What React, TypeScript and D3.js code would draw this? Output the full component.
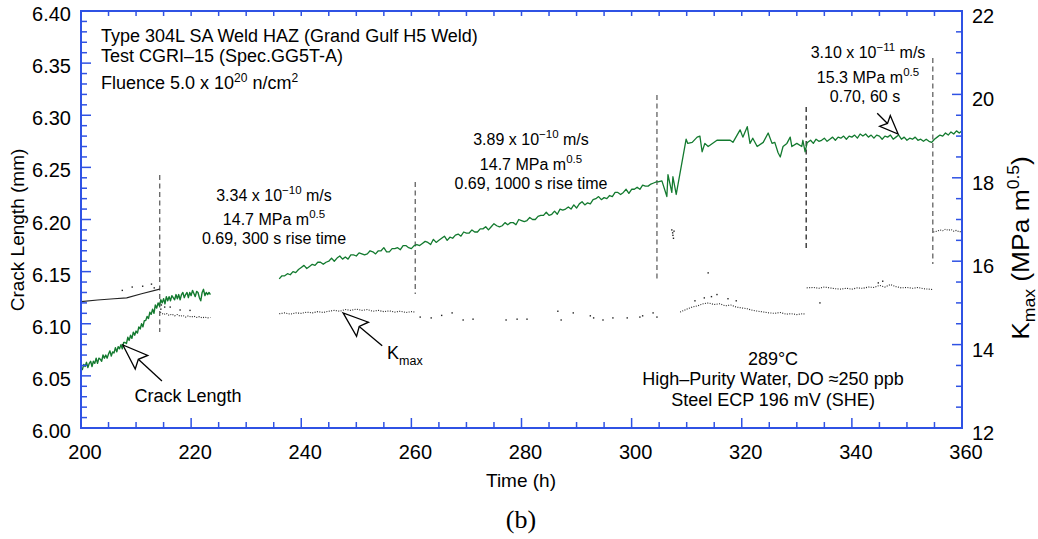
import React from 'react';
import * as d3 from 'd3';

// ---------- axis ticks ----------
const xTickValues = [200, 220, 240, 260, 280, 300, 320, 340, 360];
const yLeftTickValues = [6.0, 6.05, 6.1, 6.15, 6.2, 6.25, 6.3, 6.35, 6.4];
const yRightTickValues = [12, 14, 16, 18, 20, 22];

// ---------- crack length (mm) ----------
const crackA_start = 200;
const crackA_step = 0.25;
const crackA = [
  6.058, 6.056, 6.061, 6.059, 6.063, 6.058, 6.062, 6.064, 6.059, 6.064,
  6.062, 6.067, 6.062, 6.067, 6.066, 6.064, 6.070, 6.067, 6.070, 6.067,
  6.071, 6.074, 6.069, 6.073, 6.072, 6.077, 6.073, 6.078, 6.076, 6.080,
  6.076, 6.082, 6.082, 6.081, 6.087, 6.084, 6.089, 6.086, 6.092, 6.089,
  6.093, 6.091, 6.097, 6.095, 6.100, 6.097, 6.103, 6.103, 6.107, 6.105,
  6.111, 6.109, 6.114, 6.110, 6.118, 6.115, 6.120, 6.117, 6.123, 6.120,
  6.124, 6.119, 6.126, 6.122, 6.126, 6.122, 6.127, 6.125, 6.123, 6.128,
  6.124, 6.128, 6.123, 6.128, 6.130, 6.125, 6.128, 6.130, 6.125, 6.130,
  6.127, 6.132, 6.129, 6.126, 6.131, 6.130, 6.125, 6.122, 6.130, 6.133,
  6.127, 6.130, 6.128, 6.130, 6.128,
];

const crackB_start = 236;
const crackB_step = 0.5;
const crackB = [
  6.143, 6.146, 6.146, 6.148, 6.147, 6.150, 6.149, 6.152, 6.154, 6.156,
  6.153, 6.155, 6.157, 6.156, 6.159, 6.159, 6.157, 6.159, 6.160, 6.163,
  6.160, 6.163, 6.165, 6.162, 6.164, 6.162, 6.166, 6.166, 6.165, 6.168,
  6.167, 6.166, 6.167, 6.170, 6.169, 6.167, 6.170, 6.170, 6.173, 6.169,
  6.169, 6.172, 6.172, 6.173, 6.171, 6.175, 6.175, 6.173, 6.172, 6.175,
  6.176, 6.175, 6.177, 6.179, 6.178, 6.176, 6.181, 6.178, 6.180, 6.182,
  6.184, 6.180, 6.183, 6.182, 6.185, 6.186, 6.184, 6.188, 6.187, 6.187,
  6.190, 6.188, 6.188, 6.191, 6.191, 6.193, 6.190, 6.193, 6.196, 6.194,
  6.193, 6.194, 6.197, 6.195, 6.197, 6.197, 6.195, 6.200, 6.199, 6.198,
  6.199, 6.202, 6.200, 6.200, 6.203, 6.204, 6.204, 6.207, 6.204, 6.205,
  6.208, 6.205, 6.210, 6.209, 6.210, 6.212, 6.210, 6.214, 6.211, 6.215,
  6.217, 6.214, 6.216, 6.215, 6.219, 6.220, 6.222, 6.219, 6.221, 6.220,
  6.223, 6.222, 6.226, 6.226, 6.224, 6.226, 6.229, 6.225, 6.229, 6.229,
  6.231, 6.229, 6.233, 6.232, 6.232, 6.234, 6.235, 6.236,
];

const crackC_time = [
  304.8, 305.5, 306.4, 306.6, 307.3, 307.5, 308.1, 309.9, 310.2, 311.0,
  311.9, 312.4, 312.8, 313.3, 313.9, 315.5, 317.9, 318.4, 319.7, 320.2,
  321.0, 321.5, 322.0, 322.8, 323.9, 324.8, 325.5, 326.0, 326.6, 327.0,
  327.5, 328.2, 328.8, 329.1, 330.0, 330.9, 331.1, 331.5, 331.9,
];
const crackC = [
  6.236, 6.237, 6.222, 6.243, 6.226, 6.241, 6.224, 6.277, 6.273, 6.274,
  6.279, 6.280, 6.265, 6.273, 6.270, 6.276, 6.276, 6.274, 6.286, 6.279,
  6.289, 6.273, 6.278, 6.270, 6.274, 6.283, 6.273, 6.274, 6.264, 6.260,
  6.270, 6.273, 6.279, 6.270, 6.273, 6.270, 6.276, 6.265, 6.274,
];

const crackD_start = 332;
const crackD_step = 0.5;
const crackD = [
  6.274, 6.276, 6.273, 6.277, 6.275, 6.276, 6.278, 6.275, 6.277, 6.279,
  6.276, 6.279, 6.278, 6.280, 6.277, 6.280, 6.279, 6.281, 6.278, 6.282,
  6.280, 6.282, 6.279, 6.281, 6.278, 6.281, 6.280, 6.277, 6.280, 6.279,
  6.281, 6.277, 6.279, 6.281, 6.277, 6.279, 6.276, 6.278, 6.277, 6.279,
  6.276, 6.277, 6.275, 6.277, 6.275, 6.274, 6.277, 6.279, 6.281, 6.280,
  6.283, 6.281, 6.284, 6.282, 6.285, 6.283, 6.285,
];

// ---------- Kmax (MPa m^0.5) ----------
const kmax1_time = [200, 203, 206, 208.3, 211, 214.3];
const kmax1 = [15.03, 15.07, 15.1, 15.12, 15.22, 15.33];

const kmax2_time = [214.4, 215, 215.5, 216, 216.5, 217, 217.5, 218, 218.5, 219, 219.5, 220, 220.5, 221, 221.5, 222, 222.5, 223, 223.5];
const kmax2 = [14.78, 14.72, 14.75, 14.7, 14.73, 14.69, 14.72, 14.68, 14.7, 14.66, 14.69, 14.66, 14.68, 14.65, 14.67, 14.64, 14.66, 14.64, 14.65];

const kmax3_time = [236, 237, 238, 239, 240, 241, 242, 243, 244, 245, 246, 247, 248, 249, 250, 251, 252, 253, 254, 255, 256, 257, 258, 259, 260, 260.6];
const kmax3 = [14.74, 14.76, 14.73, 14.76, 14.75, 14.78, 14.76, 14.79, 14.77, 14.8, 14.82, 14.8, 14.84, 14.82, 14.85, 14.82, 14.84, 14.8, 14.82, 14.79, 14.81, 14.78, 14.8, 14.77, 14.79, 14.78];

const kmax6_time = [308.8, 310, 311, 312, 313, 314, 315, 316, 317, 318, 319, 320, 321, 322, 323, 324, 325, 326, 327, 328, 329, 330, 331, 331.6];
const kmax6 = [14.78, 14.85, 14.9, 14.93, 14.98, 15.0, 14.96, 14.98, 14.93, 14.95, 14.9, 14.88, 14.86, 14.82, 14.8, 14.78, 14.76, 14.75, 14.77, 14.73, 14.74, 14.72, 14.74, 14.73];

const kmax7_time = [331.8, 333, 334, 335, 336, 337, 338, 339, 340, 341, 342, 343, 344, 345, 346, 347, 348, 349, 350, 351, 352, 353, 354, 354.6];
const kmax7 = [15.36, 15.37, 15.35, 15.38, 15.36, 15.34, 15.33, 15.35, 15.33, 15.36, 15.35, 15.38, 15.37, 15.42, 15.38, 15.44, 15.39, 15.36, 15.37, 15.35, 15.37, 15.34, 15.33, 15.32];

const kmax8_time = [354.8, 355.5, 356, 356.5, 357, 357.5, 358, 358.5, 359, 359.5, 360];
const kmax8 = [16.7, 16.72, 16.75, 16.73, 16.77, 16.74, 16.76, 16.72, 16.74, 16.7, 16.72];

const kmaxScatter_time = [
  207.5, 209.3, 211.2, 212.8, 213.3, 214.5, 214.6, 215.2, 216.2, 218, 219.8,
  261.6, 263.6, 265.5, 267.4, 269.4, 271.2, 277.2, 279.2, 281, 286.6, 287.2,
  289.4, 292.5, 293.1, 294.8, 296.6, 299.2, 301.5, 302, 303.9, 304.6,
  307.3, 307.45, 307.5, 307.6, 307.7, 313.9, 311.5, 313.2, 314.5, 315.5, 317.5, 319,
  334.2, 344.8, 345.6,
];
const kmaxScatter = [
  15.3, 15.38, 15.4, 15.45, 15.36, 14.85, 14.95, 14.9, 14.9, 14.83, 14.82,
  14.66, 14.64, 14.7, 14.76, 14.59, 14.61, 14.59, 14.61, 14.61, 14.8, 14.59,
  14.76, 14.69, 14.64, 14.59, 14.64, 14.64, 14.66, 14.69, 14.76, 14.66,
  16.75, 16.68, 16.62, 16.55, 16.72, 15.72, 15.05, 15.12, 15.15, 15.2, 15.1, 15.05,
  15.0, 15.48, 15.52,
];

// ---------- vertical dashed markers (time, crack-length extent) ----------
const markerTime = [214.3, 260.7, 304.6, 331.7, 354.7];
const markerTop = [6.2427, 6.236, 6.3194, 6.3079, 6.3549];
const markerBottom = [6.0921, 6.1285, 6.142, 6.1698, 6.1573];
const markerDark = [false, false, false, true, false];

const BLUE = '#2f52e4';
const GREEN = '#137a2f';
const FONT = '"Liberation Sans", Arial, Helvetica, sans-serif';

const PL = 81, PR = 962, PT = 11, PB = 428;

function Arrow({ tip, tail, head = 26, ang = 20, notch = 0.8 }: { tip: number[]; tail: number[]; head?: number; ang?: number; notch?: number }) {
  const dx = tail[0] - tip[0];
  const dy = tail[1] - tip[1];
  const len = Math.hypot(dx, dy);
  const ux = dx / len, uy = dy / len;
  const a = (ang * Math.PI) / 180;
  const rot = (t: number) => [ux * Math.cos(t) - uy * Math.sin(t), ux * Math.sin(t) + uy * Math.cos(t)];
  const r1 = rot(a), r2 = rot(-a);
  const b1 = [tip[0] + r1[0] * head, tip[1] + r1[1] * head];
  const b2 = [tip[0] + r2[0] * head, tip[1] + r2[1] * head];
  const n = [tip[0] + ux * head * notch, tip[1] + uy * head * notch];
  const pts = [tip, b1, n, b2].map((p) => p.join(',')).join(' ');
  return (
    <g>
      <line x1={n[0]} y1={n[1]} x2={tail[0]} y2={tail[1]} stroke="#000" strokeWidth={1.3} />
      <polygon points={pts} fill="#fff" stroke="#000" strokeWidth={1.3} strokeLinejoin="miter" />
    </g>
  );
}

export default function App() {
  const x = d3.scaleLinear().domain([200, 360]).range([PL, PR]);
  const yL = d3.scaleLinear().domain([6.0, 6.4]).range([PB, PT]);
  const yR = d3.scaleLinear().domain([12, 22]).range([PB, PT]);

  const lineL = d3.line<[number, number]>().x((d) => x(d[0])).y((d) => yL(d[1]));
  const lineR = d3.line<[number, number]>().x((d) => x(d[0])).y((d) => yR(d[1]));

  const segA: [number, number][] = crackA.map((v, i) => [crackA_start + i * crackA_step, v]);
  const segB: [number, number][] = crackB.map((v, i) => [crackB_start + i * crackB_step, v]);
  const segC: [number, number][] = crackC.map((v, i) => [crackC_time[i], v]);
  const segD: [number, number][] = crackD.map((v, i) => [crackD_start + i * crackD_step, v]);
  const segBCD = [...segB, ...segC, ...segD];

  const pair = (t: number[], v: number[]) => v.map((k, i) => [t[i], k] as [number, number]);

  const xMinor = d3.range(200, 360.01, 5);
  const yLMinor = d3.range(6.0, 6.4001, 0.01);
  const yRMinor = d3.range(12, 22.001, 0.5);

  const isMajorX = (v: number) => Math.abs(v % 20) < 1e-6;
  const isMajorL = (v: number) => Math.abs(Math.round(v * 100) % 5) === 0;
  const isMajorR = (v: number) => Math.abs(v % 2) < 1e-6;

  const crackTip = [x(207.6), yL(6.0796)];
  const crackTail = [x(214.7), yL(6.045)];
  const kTip = [x(247.6), yR(14.76)];
  const kTail = [x(254.7), yR(13.97)];
  const sTip = [x(348.4), yL(6.282)];
  const sTail = [x(344.6), yL(6.302)];

  const sup = (s: string, size = 11.5) => (
    <tspan fontSize={size} dy={-7}>{s}</tspan>
  );

  return (
    <svg width={1038} height={539} style={{ position: 'absolute', left: 0, top: 0, background: '#fff' }} fontFamily={FONT}>
      <defs>
        <clipPath id="plot">
          <rect x={PL} y={PT} width={PR - PL} height={PB - PT} />
        </clipPath>
      </defs>

      {/* vertical dashed markers */}
      {markerTime.map((t, i) => (
        <line key={'m' + i} x1={x(t)} x2={x(t)} y1={yL(markerTop[i])} y2={yL(markerBottom[i])}
          stroke={markerDark[i] ? '#111' : '#555'} strokeWidth={1.2} strokeDasharray="5,3.5" />
      ))}

      <g clipPath="url(#plot)">
        {/* Kmax */}
        <path d={lineR(pair(kmax1_time, kmax1)) || ''} fill="none" stroke="#222" strokeWidth={1.1} />
        {[pair(kmax2_time, kmax2), pair(kmax3_time, kmax3), pair(kmax6_time, kmax6), pair(kmax7_time, kmax7), pair(kmax8_time, kmax8)].map((s, i) => (
          <path key={'k' + i} d={lineR(s) || ''} fill="none" stroke="#222" strokeWidth={1.1} strokeDasharray="1,1.4" />
        ))}
        {kmaxScatter.map((k, i) => (
          <rect key={'s' + i} x={x(kmaxScatter_time[i]) - 0.7} y={yR(k) - 0.7} width={1.4} height={1.4} fill="#222" />
        ))}
        {/* crack length */}
        <path d={lineL(segA) || ''} fill="none" stroke={GREEN} strokeWidth={1.4} strokeLinejoin="round" />
        <path d={lineL(segBCD) || ''} fill="none" stroke={GREEN} strokeWidth={1.3} strokeLinejoin="round" />
      </g>

      {/* frame */}
      <rect x={PL} y={PT} width={PR - PL} height={PB - PT} fill="none" stroke={BLUE} strokeWidth={2} />

      {/* bottom ticks */}
      {xMinor.map((v, i) => (
        <line key={'xb' + i} x1={x(v)} x2={x(v)} y1={PB} y2={PB - (isMajorX(v) ? 10 : 6)} stroke={BLUE} strokeWidth={1.5} />
      ))}
      {/* top ticks */}
      {xMinor.map((v, i) => (
        <line key={'xt' + i} x1={x(v)} x2={x(v)} y1={PT} y2={PT + 5} stroke={BLUE} strokeWidth={1.5} />
      ))}
      {/* left ticks */}
      {yLMinor.map((v, i) => (
        <line key={'yl' + i} x1={PL} x2={PL + (isMajorL(v) ? 10 : 6)} y1={yL(v)} y2={yL(v)} stroke={BLUE} strokeWidth={1.5} />
      ))}
      {/* right ticks */}
      {yRMinor.map((v, i) => (
        <line key={'yr' + i} x1={PR} x2={PR - (isMajorR(v) ? 10 : 6)} y1={yR(v)} y2={yR(v)} stroke={BLUE} strokeWidth={1.5} />
      ))}

      {/* tick labels */}
      {xTickValues.map((v) => (
        <text key={'xl' + v} x={x(v) + 4} y={459} textAnchor="middle" fontSize={20}>{v}</text>
      ))}
      {yLeftTickValues.map((v) => (
        <text key={'ll' + v} x={71} y={yL(v) + 10} textAnchor="end" fontSize={20}>{v.toFixed(2)}</text>
      ))}
      {yRightTickValues.map((v) => (
        <text key={'rl' + v} x={972} y={yR(v) + 12} textAnchor="start" fontSize={20}>{v}</text>
      ))}

      {/* axis titles */}
      <text transform="translate(24,230) rotate(-90)" textAnchor="middle" fontSize={19}>Crack Length (mm)</text>
      <text x={521} y={487} textAnchor="middle" fontSize={19}>Time (h)</text>
      <text transform="translate(1029,248) rotate(-90) scale(1.1,1)" textAnchor="middle" fontSize={24}>
        K<tspan fontSize={16} dy={6}>max</tspan><tspan dy={-6}> (MPa m</tspan><tspan fontSize={16} dy={-10}>0.5</tspan><tspan dy={10}>)</tspan>
      </text>
      <text x={521} y={528} textAnchor="middle" fontSize={26} fontFamily='"Liberation Serif", "Times New Roman", serif'>(b)</text>

      {/* header notes */}
      <g fontSize={18}>
        <text x={101} y={42}>Type 304L SA Weld HAZ (Grand Gulf H5 Weld)</text>
        <text x={101} y={62}>Test CGRI–15 (Spec.GG5T-A)</text>
        <text x={101} y={89}>Fluence 5.0 x 10{sup('20', 12)}<tspan dy={7}> n/cm</tspan>{sup('2', 12)}</text>
      </g>

      {/* phase annotations */}
      <g fontSize={16} textAnchor="middle">
        <text x={274} y={201}>3.34 x 10{sup('−10')}<tspan dy={7}> m/s</tspan></text>
        <text x={274} y={225}>14.7 MPa m{sup('0.5')}</text>
        <text x={274} y={244}>0.69, 300 s rise time</text>

        <text x={531} y={145}>3.89 x 10{sup('−10')}<tspan dy={7}> m/s</tspan></text>
        <text x={531} y={170}>14.7 MPa m{sup('0.5')}</text>
        <text x={531} y={189}>0.69, 1000 s rise time</text>

        <text x={868} y={58}>3.10 x 10{sup('−11')}<tspan dy={7}> m/s</tspan></text>
        <text x={868} y={83}>15.3 MPa m{sup('0.5')}</text>
        <text x={865} y={102}>0.70, 60 s</text>
      </g>
      <g fontSize={18} textAnchor="middle">
        <text x={773} y={365}>289°C</text>
        <text x={773} y={385}>High–Purity Water, DO ≈250 ppb</text>
        <text x={773} y={406}>Steel ECP 196 mV (SHE)</text>
        <text x={188} y={402}>Crack Length</text>
      </g>
      <text x={387} y={359} fontSize={18}>K<tspan fontSize={12.5} dy={6}>max</tspan></text>

      {/* arrows */}
      <Arrow tip={crackTip} tail={crackTail} head={27} ang={20} notch={0.78} />
      <Arrow tip={kTip} tail={kTail} head={27} ang={20} notch={0.78} />
      <Arrow tip={sTip} tail={sTail} head={20} ang={22} notch={0.75} />
    </svg>
  );
}
